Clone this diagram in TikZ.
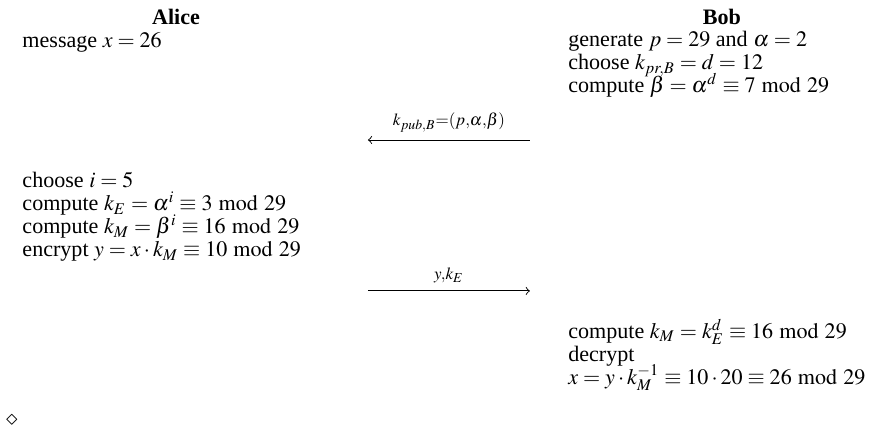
\documentclass[tikz,border=0pt]{standalone}
\usepackage{mathptmx}
\usepackage{fontspec}
\setmainfont{Liberation Serif}
\lineskiplimit=-\maxdimen
\begin{document}
\begin{tikzpicture}[>=to,
  who/.style={inner sep=0pt, anchor=base, font=\fontsize{9.6}{10}\selectfont\bfseries},
  txt/.style={inner sep=0pt, align=left, anchor=north west, font=\fontsize{9.6}{10}\selectfont},
  msg/.style={->, thin}]
\useasboundingbox (0,0) rectangle (13.34,-6.53);
% parties
\node[who] (alice) at (2.69,-0.367) {Alice};
\node[who] (bob) at (11.03,-0.367) {Bob};

% Alice
\node[txt] (amsg) at (0.336,-0.489) {message $x=26$};
\node[txt] (aenc) at (0.336,-2.628) {choose $i=5$\\
  compute $k_E=\alpha^i\equiv 3 \bmod 29$\\
  compute $k_M=\beta^i\equiv 16 \bmod 29$\\
  encrypt $y=x\cdot k_M\equiv 10 \bmod 29$};

% Bob
\node[txt] (bkey) at (8.677,-0.474) {generate $p=29$ and $\alpha=2$\\
  choose $k_{pr,B}=d=12$\\
  compute $\beta=\alpha^d\equiv 7 \bmod 29$};
\node[txt] (bdec) at (8.677,-4.866) {compute $k_M=k_E^d\equiv 16 \bmod 29$\\
  decrypt\\
  $x=y\cdot k_M^{-1}\equiv 10\cdot 20\equiv 26 \bmod 29$};

% messages
\coordinate (pubB) at (8.097,-2.139);
\coordinate (pubA) at (5.622,-2.139);
\coordinate (ctA) at (5.622,-4.446);
\coordinate (ctB) at (8.097,-4.446);
\draw[msg] (pubB) -- node[above] {$\scriptstyle k_{pub,B}=(p,\alpha,\beta)$} (pubA);
\draw[msg] (ctA) -- node[above] {$\scriptstyle y,k_E$} (ctB);

\node[inner sep=0pt] (qed) at (0.18,-6.43) {$\diamond$};
\end{tikzpicture}
\end{document}
